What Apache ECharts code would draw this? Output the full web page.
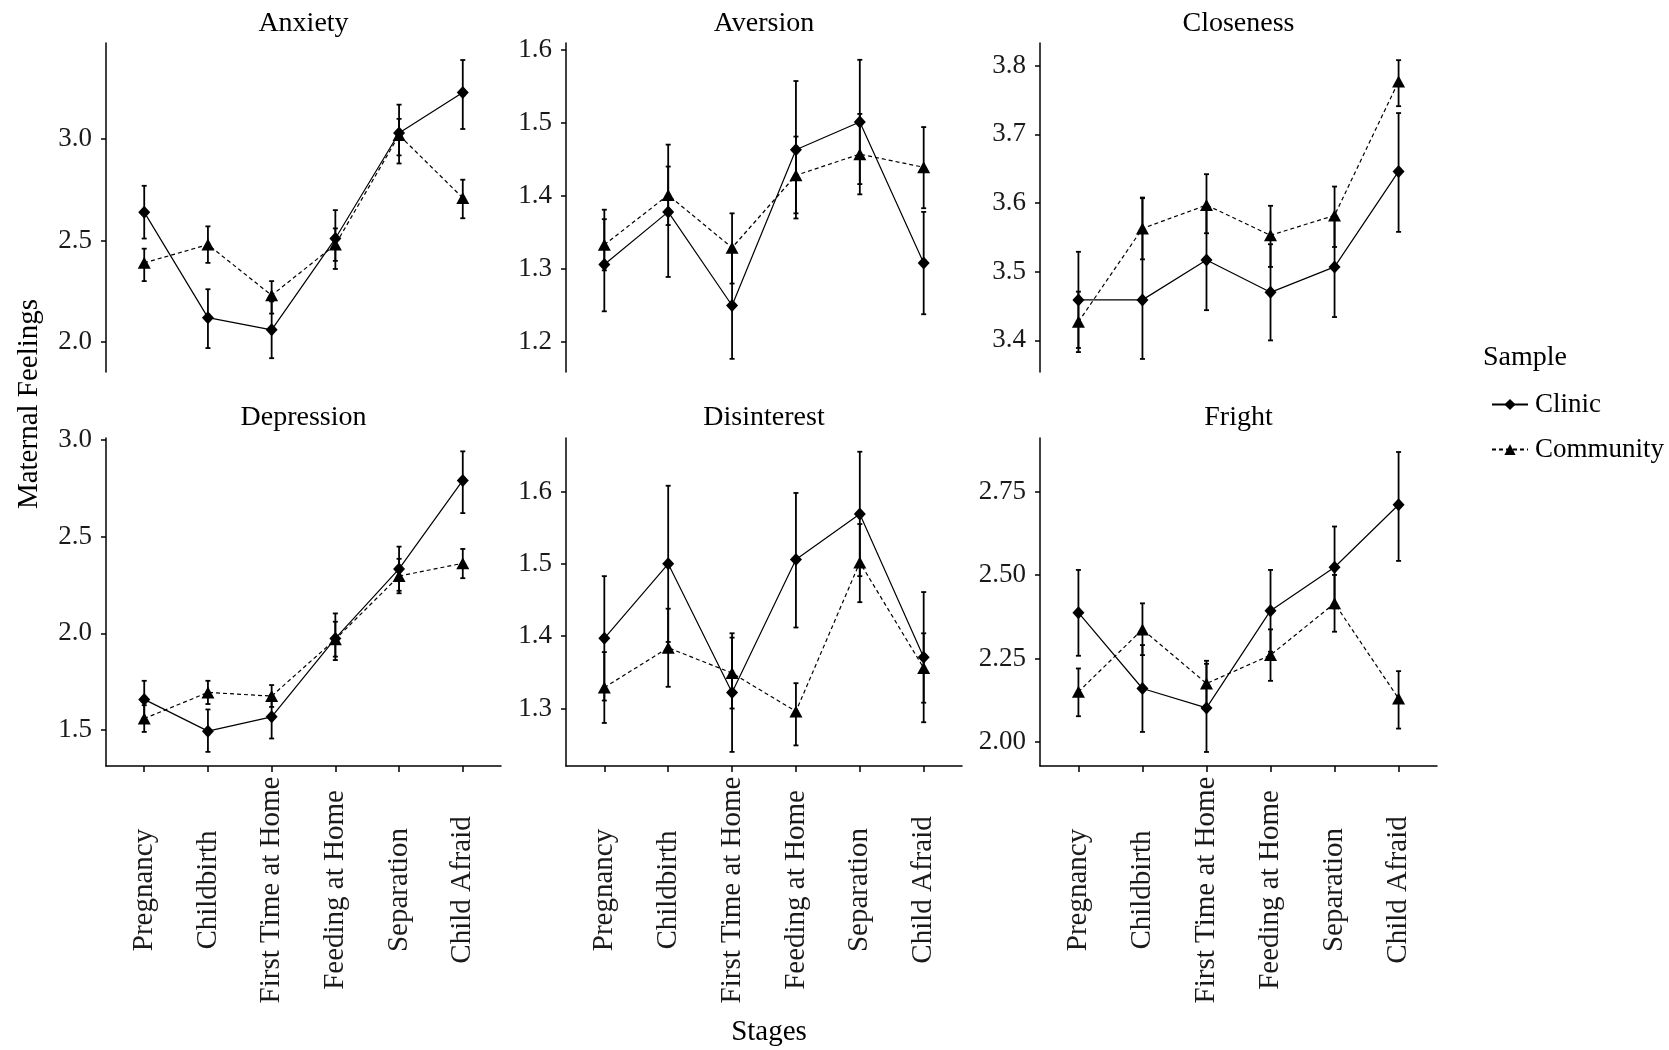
<!DOCTYPE html>
<html>
<head>
<meta charset="utf-8">
<script src="https://cdn.jsdelivr.net/npm/echarts@6/dist/echarts.min.js"></script>
<style>
  html, body { margin: 0; padding: 0; background: #fff; }
  #chart { width: 1669px; height: 1050px; }
</style>
</head>
<body>
<div id="chart"></div>
<script>
// Stages of the mother–child sequence (x categories)
const stages = ['Pregnancy', 'Childbirth', 'First Time at Home', 'Feeding at Home', 'Separation', 'Child Afraid'];
const samples = ['Clinic', 'Community'];

// Anxiety: means and interval bounds
const anxietyClinic      = [2.64, 2.12, 2.06, 2.51, 3.03, 3.23];
const anxietyClinicLo    = [2.51, 1.97, 1.92, 2.36, 2.88, 3.05];
const anxietyClinicHi    = [2.77, 2.26, 2.20, 2.65, 3.17, 3.39];
const anxietyCommunity   = [2.39, 2.48, 2.23, 2.48, 3.02, 2.71];
const anxietyCommunityLo = [2.30, 2.39, 2.14, 2.40, 2.92, 2.61];
const anxietyCommunityHi = [2.46, 2.57, 2.30, 2.56, 3.10, 2.80];

// Aversion
const aversionClinic      = [1.306, 1.378, 1.250, 1.463, 1.501, 1.308];
const aversionClinicLo    = [1.242, 1.289, 1.177, 1.369, 1.416, 1.238];
const aversionClinicHi    = [1.381, 1.470, 1.323, 1.557, 1.586, 1.378];
const aversionCommunity   = [1.333, 1.401, 1.329, 1.428, 1.457, 1.439];
const aversionCommunityLo = [1.298, 1.360, 1.280, 1.376, 1.402, 1.383];
const aversionCommunityHi = [1.368, 1.440, 1.376, 1.481, 1.512, 1.494];

// Closeness
const closenessClinic      = [3.459, 3.459, 3.517, 3.470, 3.507, 3.646];
const closenessClinicLo    = [3.389, 3.373, 3.444, 3.400, 3.434, 3.558];
const closenessClinicHi    = [3.529, 3.607, 3.590, 3.540, 3.580, 3.731];
const closenessCommunity   = [3.427, 3.563, 3.597, 3.553, 3.582, 3.777];
const closenessCommunityLo = [3.383, 3.518, 3.556, 3.507, 3.536, 3.741];
const closenessCommunityHi = [3.471, 3.608, 3.642, 3.596, 3.624, 3.808];

// Depression
const depressionClinic      = [1.659, 1.495, 1.569, 1.974, 2.333, 2.790];
const depressionClinicLo    = [1.563, 1.388, 1.457, 1.862, 2.220, 2.621];
const depressionClinicHi    = [1.755, 1.607, 1.681, 2.103, 2.448, 2.940];
const depressionCommunity   = [1.560, 1.695, 1.676, 1.969, 2.296, 2.362];
const depressionCommunityLo = [1.491, 1.635, 1.620, 1.880, 2.207, 2.285];
const depressionCommunityHi = [1.629, 1.755, 1.733, 2.060, 2.385, 2.436];

// Disinterest
const disinterestClinic      = [1.397, 1.500, 1.322, 1.506, 1.569, 1.371];
const disinterestClinicLo    = [1.311, 1.392, 1.240, 1.412, 1.483, 1.281];
const disinterestClinicHi    = [1.483, 1.608, 1.404, 1.598, 1.655, 1.461];
const disinterestCommunity   = [1.329, 1.384, 1.349, 1.296, 1.502, 1.356];
const disinterestCommunityLo = [1.280, 1.330, 1.300, 1.249, 1.447, 1.308];
const disinterestCommunityHi = [1.378, 1.438, 1.398, 1.335, 1.555, 1.404];

// Fright
const frightClinic      = [2.387, 2.160, 2.102, 2.393, 2.523, 2.710];
const frightClinicLo    = [2.258, 2.030, 1.970, 2.270, 2.400, 2.542];
const frightClinicHi    = [2.515, 2.290, 2.234, 2.515, 2.645, 2.868];
const frightCommunity   = [2.150, 2.337, 2.175, 2.260, 2.415, 2.130];
const frightCommunityLo = [2.077, 2.260, 2.107, 2.183, 2.330, 2.040];
const frightCommunityHi = [2.220, 2.415, 2.243, 2.337, 2.500, 2.212];

// Tick labels of each panel's y axis
const anxietyTicks     = ['2.0', '2.5', '3.0'];
const aversionTicks    = ['1.2', '1.3', '1.4', '1.5', '1.6'];
const closenessTicks   = ['3.4', '3.5', '3.6', '3.7', '3.8'];
const depressionTicks  = ['1.5', '2.0', '2.5', '3.0'];
const disinterestTicks = ['1.3', '1.4', '1.5', '1.6'];
const frightTicks      = ['2.00', '2.25', '2.50', '2.75'];

const panels = [
  { title: 'Anxiety',     ticks: anxietyTicks,     clinic: [anxietyClinic, anxietyClinicLo, anxietyClinicHi],             community: [anxietyCommunity, anxietyCommunityLo, anxietyCommunityHi] },
  { title: 'Aversion',    ticks: aversionTicks,    clinic: [aversionClinic, aversionClinicLo, aversionClinicHi],          community: [aversionCommunity, aversionCommunityLo, aversionCommunityHi] },
  { title: 'Closeness',   ticks: closenessTicks,   clinic: [closenessClinic, closenessClinicLo, closenessClinicHi],       community: [closenessCommunity, closenessCommunityLo, closenessCommunityHi] },
  { title: 'Depression',  ticks: depressionTicks,  clinic: [depressionClinic, depressionClinicLo, depressionClinicHi],    community: [depressionCommunity, depressionCommunityLo, depressionCommunityHi] },
  { title: 'Disinterest', ticks: disinterestTicks, clinic: [disinterestClinic, disinterestClinicLo, disinterestClinicHi], community: [disinterestCommunity, disinterestCommunityLo, disinterestCommunityHi] },
  { title: 'Fright',      ticks: frightTicks,      clinic: [frightClinic, frightClinicLo, frightClinicHi],                community: [frightCommunity, frightCommunityLo, frightCommunityHi] }
];

// ---- layout (pixels) ----
const colLeft  = [106, 566, 1040];
const colWidth = [395, 396, 397];
const rowTop    = [43, 438];
const rowHeight = [329, 328];
const yRange = [[1.852, 3.474], [1.159, 1.609], [3.354, 3.833], [1.315, 3.009], [1.2205, 1.674], [1.928, 2.910]];

const FONT = '"Liberation Serif", "Times New Roman", serif';
const INK = '#000';
const stageIdx = stages.map((s, i) => i + 1);

function renderErrorBar(params, api) {
  const x = api.value(0);
  const lo = api.coord([x, api.value(1)]);
  const hi = api.coord([x, api.value(2)]);
  const half = 2.5;
  const style = { stroke: INK, lineWidth: 1.8 };
  return {
    type: 'group',
    children: [
      { type: 'line', shape: { x1: lo[0], y1: lo[1], x2: hi[0], y2: hi[1] }, style },
      { type: 'line', shape: { x1: hi[0] - half, y1: hi[1], x2: hi[0] + half, y2: hi[1] }, style },
      { type: 'line', shape: { x1: lo[0] - half, y1: lo[1], x2: lo[0] + half, y2: lo[1] }, style }
    ]
  };
}

const grids = [], xAxes = [], yAxes = [], series = [], graphics = [];

panels.forEach((p, k) => {
  const col = k % 3, row = Math.floor(k / 3);
  const bottomRow = row === 1;
  grids.push({ left: colLeft[col], top: rowTop[row], width: colWidth[col], height: rowHeight[row], containLabel: false });

  xAxes.push({
    gridIndex: k, type: 'value', min: 0.4, max: 6.6,
    splitLine: { show: false },
    axisLine: { show: bottomRow, onZero: false, lineStyle: { color: INK, width: 1.5 } },
    axisTick: { show: bottomRow, customValues: stageIdx, length: 6, lineStyle: { color: INK, width: 1.5 } },
    axisLabel: {
      show: bottomRow, customValues: stageIdx, rotate: 90, align: 'center', verticalAlign: 'middle',
      margin: 124, fontFamily: FONT, fontSize: 29, color: '#1a1a1a',
      formatter: v => stages[Math.round(v) - 1]
    }
  });

  const tickVals = p.ticks.map(Number);
  yAxes.push({
    gridIndex: k, type: 'value', min: yRange[k][0], max: yRange[k][1],
    splitLine: { show: false },
    axisLine: { show: true, lineStyle: { color: INK, width: 1.5 } },
    axisTick: { show: true, customValues: tickVals, length: 5, lineStyle: { color: INK, width: 1.5 } },
    axisLabel: {
      customValues: tickVals, margin: 14, fontFamily: FONT, fontSize: 27, color: '#1a1a1a',
      formatter: v => p.ticks[tickVals.findIndex(t => Math.abs(t - v) < 1e-9)]
    }
  });

  // interval bars
  [p.clinic, p.community].forEach((s, j) => {
    series.push({
      name: samples[j] + ' interval', type: 'custom', xAxisIndex: k, yAxisIndex: k, z: 2,
      renderItem: renderErrorBar, encode: { x: 0, y: [1, 2] },
      data: stageIdx.map((x, i) => [x, s[1][i], s[2][i]])
    });
  });

  // means
  series.push({
    name: 'Clinic', type: 'line', xAxisIndex: k, yAxisIndex: k, z: 3,
    symbol: 'diamond', symbolSize: [12, 13],
    lineStyle: { color: INK, width: 1.2, type: 'solid' },
    itemStyle: { color: INK },
    data: stageIdx.map((x, i) => [x, p.clinic[0][i]])
  });
  series.push({
    name: 'Community', type: 'line', xAxisIndex: k, yAxisIndex: k, z: 3,
    symbol: 'triangle', symbolSize: [13, 12],
    lineStyle: { color: INK, width: 1.2, type: [4, 3] },
    itemStyle: { color: INK },
    data: stageIdx.map((x, i) => [x, p.community[0][i]])
  });

  // panel strip title
  graphics.push({
    type: 'text', x: colLeft[col] + colWidth[col] / 2, y: row === 0 ? 24 : 418,
    style: { text: p.title, font: '28px ' + FONT, fill: INK, align: 'center', verticalAlign: 'middle' }
  });
});

graphics.push({
  type: 'text', x: 29, y: 404, rotation: Math.PI / 2,
  style: { text: 'Maternal Feelings', font: '29px ' + FONT, fill: INK, align: 'center', verticalAlign: 'middle' }
});
graphics.push({
  type: 'text', x: 769, y: 1032,
  style: { text: 'Stages', font: '29px ' + FONT, fill: INK, align: 'center', verticalAlign: 'middle' }
});
graphics.push({
  type: 'text', x: 1483, y: 358,
  style: { text: 'Sample', font: '28px ' + FONT, fill: INK, align: 'left', verticalAlign: 'middle' }
});

const chart = echarts.init(document.getElementById('chart'), null, { renderer: 'canvas' });
chart.setOption({
  animation: false,
  backgroundColor: '#fff',
  grid: grids,
  xAxis: xAxes,
  yAxis: yAxes,
  legend: {
    data: samples, orient: 'vertical', left: 1486, top: 386, itemWidth: 36, itemHeight: 14, itemGap: 18,
    textStyle: { fontFamily: FONT, fontSize: 27, color: INK, padding: [0, 0, 0, 2] }
  },
  graphic: graphics,
  series: series
});
</script>
</body>
</html>
